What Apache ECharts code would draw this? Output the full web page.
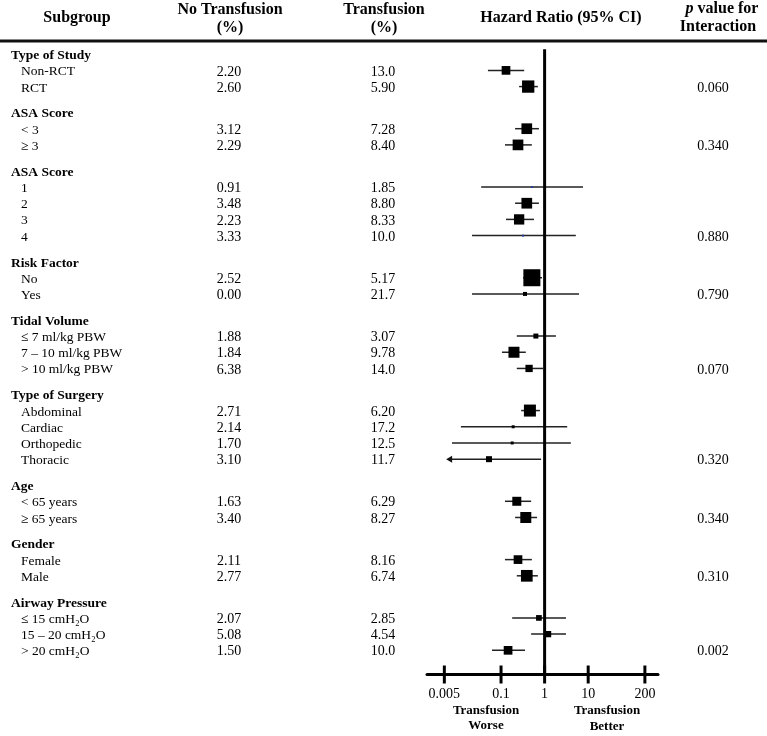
<!DOCTYPE html>
<html><head><meta charset="utf-8">
<script src="https://cdn.jsdelivr.net/npm/echarts@6/dist/echarts.min.js"></script>
<style>html,body{margin:0;padding:0;background:#fff}#c{width:767px;height:736px}</style>
</head><body><div id="c"></div><script>
const groupNames = ["Type of Study","ASA Score","ASA Score","Risk Factor","Tidal Volume","Type of Surgery","Age","Gender","Airway Pressure"];
const groupSizes = [2,2,4,2,3,4,2,2,3];
const subgroupLabels = ["Non-RCT","RCT","< 3","\u2265 3","1","2","3","4","No","Yes",
  "\u2264 7 ml/kg PBW","7 \u2013 10 ml/kg PBW","> 10 ml/kg PBW",
  "Abdominal","Cardiac","Orthopedic","Thoracic",
  "< 65 years","\u2265 65 years","Female","Male",
  "\u2264 15 cmH\u2082O","15 \u2013 20 cmH\u2082O","> 20 cmH\u2082O"];
const noTransfusion = ["2.20","2.60","3.12","2.29","0.91","3.48","2.23","3.33","2.52","0.00","1.88","1.84","6.38","2.71","2.14","1.70","3.10","1.63","3.40","2.11","2.77","2.07","5.08","1.50"];
const transfusion = ["13.0","5.90","7.28","8.40","1.85","8.80","8.33","10.0","5.17","21.7","3.07","9.78","14.0","6.20","17.2","12.5","11.7","6.29","8.27","8.16","6.74","2.85","4.54","10.0"];
const hazardRatio = [0.13,0.42,0.39,0.245,0.51,0.39,0.26,0.32,0.51,0.355,0.63,0.198,0.44,0.46,0.19,0.18,0.053,0.23,0.37,0.245,0.39,0.74,1.2,0.145];
const ciLower = [0.050,0.26,0.21,0.123,0.035,0.21,0.13,0.0216,0.32,0.0216,0.23,0.105,0.23,0.29,0.012,0.0075,0.0055,0.123,0.21,0.123,0.23,0.18,0.49,0.062];
const ciUpper = [0.34,0.70,0.74,0.51,7.6,0.74,0.57,5.2,0.87,6.15,1.82,0.37,0.92,0.78,3.3,4.0,0.83,0.49,0.67,0.51,0.70,3.1,3.1,0.355];
const weights = [8.7,12.3,10.7,10.7,2,10.7,10.3,2,17,4,5,11,7.3,12,3,3,6,9,11,8.7,11.7,5.7,6.3,8.7];
const ciTruncatedLower = [0,0,0,0,0,0,0,0,0,0,0,0,0,0,0,0,1,0,0,0,0,0,0,0];
const pInteraction = ["0.060","0.340","0.880","0.790","0.070","0.320","0.340","0.310","0.002"];
const tickValues = [0.005,0.1,1,10,200];
const tickLabels = ["0.005","0.1","1","10","200"];

const SERIF = '"Liberation Serif","Times New Roman",serif';
const Y_MIN = -0.4, Y_MAX = 38.2;
const GAP = 0.6;

const textRows = [];
const forestData = [];
let u = 0, k = 0;
groupNames.forEach((g, gi) => {
  if (gi > 0) u += GAP;
  textRows.push({x: 11, u, text: g, bold: true, align: 'left'});
  u += 1;
  for (let j = 0; j < groupSizes[gi]; j++, k++) {
    textRows.push({x: 21, u, text: subgroupLabels[k], align: 'left'});
    textRows.push({x: 229, u, text: noTransfusion[k], align: 'center', num: true});
    textRows.push({x: 383, u, text: transfusion[k], align: 'center', num: true});
    forestData.push([hazardRatio[k], u, ciLower[k], ciUpper[k], weights[k], ciTruncatedLower[k]]);
    if (j === groupSizes[gi] - 1) textRows.push({x: 713, u, text: pInteraction[gi], align: 'center', num: true});
    u += 1;
  }
});

function txt(text, x, y, font, align) {
  return {type: 'text', silent: true, style: {text, x, y, font, fill: '#000',
    align: align || 'center', verticalAlign: 'middle', textAlign: align || 'center', textVerticalAlign: 'middle'}};
}

const chart = echarts.init(document.getElementById('c'), null, {renderer: 'canvas'});
const gridTop = 49.2, gridBottom = 736 - 674.5;
chart.setOption({
  animation: false,
  backgroundColor: '#fff',
  grid: [
    {left: 0, right: 0, top: gridTop, bottom: gridBottom},
    {left: 427, right: 767 - 658, top: gridTop, bottom: gridBottom}
  ],
  xAxis: [
    {gridIndex: 0, type: 'value', min: 0, max: 767, show: false},
    {gridIndex: 1, type: 'log', logBase: 10, min: 0.002, max: 400, position: 'bottom',
      axisLine: {show: true, onZero: false, lineStyle: {color: '#000', width: 3}},
      axisTick: {show: false}, axisLabel: {show: false}, splitLine: {show: false}}
  ],
  yAxis: [
    {gridIndex: 0, type: 'value', min: Y_MIN, max: Y_MAX, inverse: true, show: false},
    {gridIndex: 1, type: 'value', min: Y_MIN, max: Y_MAX, inverse: true, show: false,
      axisLine: {onZero: false}}
  ],
  graphic: [
    {type: 'line', silent: true, shape: {x1: 0, y1: 41, x2: 767, y2: 41}, style: {stroke: '#111', lineWidth: 3}},
    txt('Subgroup', 77, 18, 'bold 16px ' + SERIF),
    txt('No Transfusion', 230, 10, 'bold 16px ' + SERIF),
    txt('(%)', 230, 28, 'bold 16px ' + SERIF),
    txt('Transfusion', 384, 10, 'bold 16px ' + SERIF),
    txt('(%)', 384, 28, 'bold 16px ' + SERIF),
    txt('Hazard Ratio (95% CI)', 561, 18, 'bold 16px ' + SERIF),
    {type: 'text', silent: true, style: {text: '{i|p} value for', x: 722, y: 9,
      font: 'bold 16px ' + SERIF, fill: '#000', align: 'center', verticalAlign: 'middle', textAlign: 'center', textVerticalAlign: 'middle',
      rich: {i: {fontStyle: 'italic', fontWeight: 'bold', fontSize: 16, fontFamily: SERIF, fill: '#000'}}}},
    txt('Interaction', 718, 27, 'bold 16px ' + SERIF),
    txt('Transfusion', 486, 711, 'bold 13px ' + SERIF),
    txt('Worse', 486, 726, 'bold 13px ' + SERIF),
    txt('Transfusion', 607, 711, 'bold 13px ' + SERIF),
    txt('Better', 607, 727, 'bold 13px ' + SERIF)
  ],
  series: [
    {
      type: 'custom', name: 'table', xAxisIndex: 0, yAxisIndex: 0, silent: true,
      data: textRows.map(r => [r.x, r.u]),
      renderItem: (params, api) => {
        const r = textRows[params.dataIndex];
        const p = api.coord([api.value(0), api.value(1)]);
        const font = r.bold ? 'bold 13.5px ' + SERIF : (r.num ? '14px ' + SERIF : '13.5px ' + SERIF);
        return txt(r.text, p[0], p[1], font, r.align);
      }
    },
    {
      type: 'line', name: 'reference', xAxisIndex: 1, yAxisIndex: 1, silent: true,
      data: [[1, Y_MIN], [1, Y_MAX]], symbol: 'none',
      lineStyle: {color: '#000', width: 3}
    },
    {
      type: 'custom', name: 'forest', xAxisIndex: 1, yAxisIndex: 1, silent: true,
      data: forestData,
      renderItem: (params, api) => {
        const c = api.coord([api.value(0), api.value(1)]);
        const lo = api.coord([api.value(2), api.value(1)]);
        const hi = api.coord([api.value(3), api.value(1)]);
        const w = api.value(4);
        const trunc = api.value(5);
        const y = c[1] - 1.5;
        const children = [
          {type: 'line', shape: {x1: lo[0] + (trunc ? 3 : 0), y1: y, x2: hi[0], y2: y}, style: {stroke: '#222', lineWidth: 1.5}}
        ];
        if (trunc) {
          children.push({type: 'polygon', shape: {points: [[lo[0], y], [lo[0] + 6, y - 3.5], [lo[0] + 6, y + 3.5]]}, style: {fill: '#111'}});
        }
        children.push({type: 'rect', shape: {x: c[0] - w / 2, y: y - w / 2, width: w, height: w},
          style: {fill: w <= 2 ? '#2a3a9a' : '#000'}});
        return {type: 'group', children};
      }
    },
    {
      type: 'custom', name: 'ticks', xAxisIndex: 1, yAxisIndex: 1, silent: true,
      data: tickValues.map(v => [v, Y_MAX]),
      renderItem: (params, api) => {
        const p = api.coord([api.value(0), api.value(1)]);
        return {type: 'group', children: [
          {type: 'line', shape: {x1: p[0], y1: p[1] - 9, x2: p[0], y2: p[1] + 9}, style: {stroke: '#000', lineWidth: 3}},
          txt(tickLabels[params.dataIndex], p[0], p[1] + 20, '14px ' + SERIF, 'center')
        ]};
      }
    }
  ]
});
</script></body></html>
